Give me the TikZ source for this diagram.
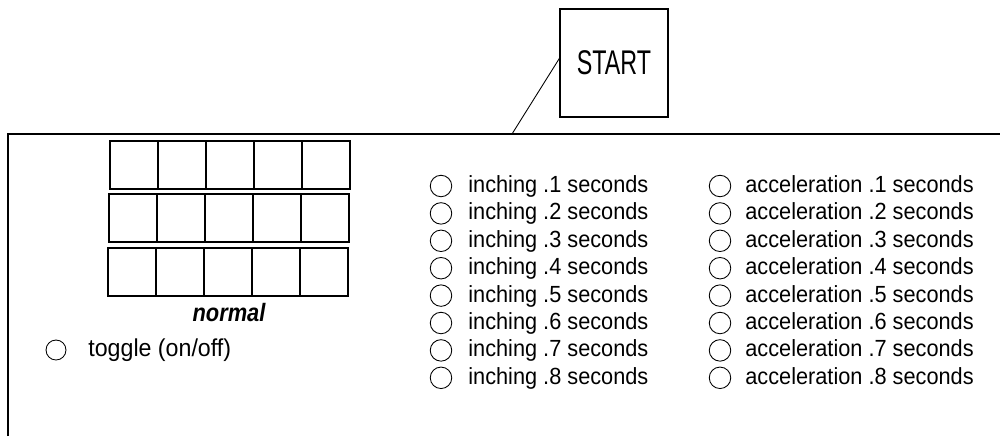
\documentclass[tikz,border=0pt]{standalone}
\usepackage{fontspec}
\setmainfont{Liberation Sans}
\newfontfamily\listfont{Liberation Sans}[FakeStretch=0.93]
\newfontfamily\startfont{Liberation Sans}[FakeStretch=0.68]
\newfontfamily\modefont{Liberation Sans}[FakeStretch=0.87]
\newfontfamily\togglefont{Liberation Sans}[FakeStretch=0.95]

\begin{document}
\begin{tikzpicture}[x=0.02cm, y=-0.02cm,
  radio/.style={draw, circle, inner sep=0pt, minimum size=0.43cm, line width=0.5pt},
  option/.style={anchor=base west, inner sep=0pt, font=\listfont\fontsize{13.3}{15}\selectfont}]
\useasboundingbox (0,0) rectangle (1000,436);

% panel edge
\draw[line width=0.6pt] (8,436) -- (8,134) -- (1000,134);

% start button
\node[draw, line width=0.6pt, minimum width=2.16cm, minimum height=2.16cm, inner sep=0pt,
  font=\startfont\fontsize{19.5}{21}\selectfont] (start) at (614,63) {START};
\coordinate (lead) at (512,134);
\draw[line width=0.5pt] (start.175) -- (lead);

% display
\foreach \y/\x in {141/110, 194/109, 248/108}
  \foreach \c in {0,...,4}
    \draw[line width=0.6pt] (\x+48*\c,\y) rectangle ++(48,48);
\node[anchor=base, inner sep=0pt, font=\modefont\fontsize{14.3}{16}\selectfont\bfseries\itshape] (mode) at (229,321) {normal};

% toggle
\node[radio, minimum size=0.4cm] (tgl) at (56,350) {};
\node[anchor=base west, inner sep=0pt, font=\togglefont\fontsize{13.9}{16}\selectfont] (tgltext) at (88,356) {toggle (on/off)};

% options
\foreach \i in {1,...,8} {
  \node[radio] (inch\i) at (441,{186+27.4*(\i-1)}) {};
  \node[option] (inchtext\i) at (468,{192.5+27.4*(\i-1)}) {inching .\i\ seconds};
  \node[radio] (acc\i) at (720,{186+27.4*(\i-1)}) {};
  \node[option] (acctext\i) at (745,{192.5+27.4*(\i-1)}) {acceleration .\i\ seconds};
}
\end{tikzpicture}
\end{document}
